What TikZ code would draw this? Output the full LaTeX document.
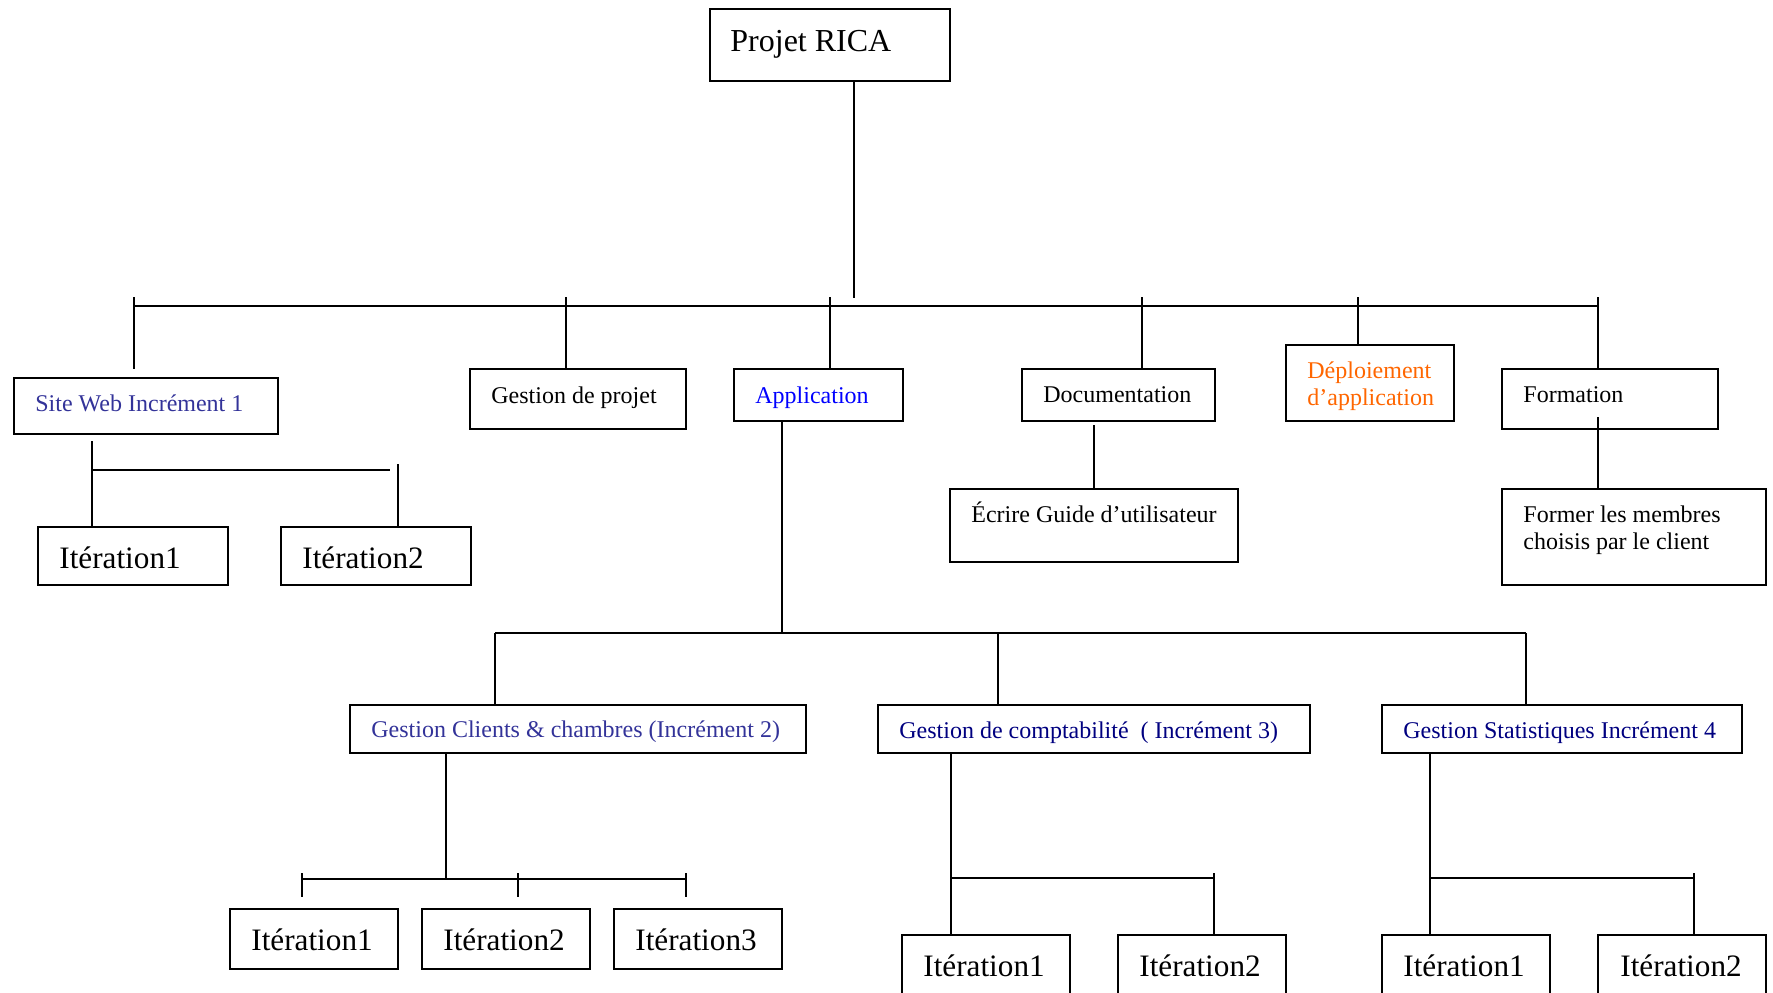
\documentclass[tikz,border=0pt]{standalone}
\usepackage{fontspec}
\setmainfont{Liberation Serif}
\usetikzlibrary{fit}
\definecolor{slateblue}{RGB}{51,51,153}
\definecolor{navyblue}{RGB}{0,0,128}
\definecolor{pureblue}{RGB}{0,0,255}
\definecolor{deployorange}{RGB}{255,102,0}
\begin{document}
\begin{tikzpicture}[x=0.5pt,y=-0.5pt,
  box/.style={draw, line width=1.1pt, inner sep=0pt},
  link/.style={line width=1pt},
  small/.style={anchor=base west, inner sep=0pt, font=\fontsize{12}{14}\selectfont},
  large/.style={anchor=base west, inner sep=0pt, font=\fontsize{15.6}{18}\selectfont},
  head/.style={anchor=base west, inner sep=0pt, font=\fontsize{16}{19}\selectfont}]
\path[use as bounding box] (0,0) rectangle (1773,992);
\clip (0,0) rectangle (1773,992);

% ---------- boxes ----------
\node[box, fit={(710,9) (950,81)}] (root) {};
\node[box, fit={(14,378) (278,434)}] (site) {};
\node[box, fit={(470,369) (686,429)}] (gp) {};
\node[box, fit={(734,369) (903,421)}] (app) {};
\node[box, fit={(1022,369) (1215,421)}] (doc) {};
\node[box, fit={(1286,345) (1454,421)}] (dep) {};
\node[box, fit={(1502,369) (1718,429)}] (form) {};
\node[box, fit={(950,489) (1238,562)}] (guide) {};
\node[box, fit={(1502,489) (1766,585)}] (former) {};
\node[box, fit={(38,527) (228,585)}] (s1) {};
\node[box, fit={(281,527) (471,585)}] (s2) {};
\node[box, fit={(350,705) (806,753)}] (cli) {};
\node[box, fit={(878,705) (1310,753)}] (cpt) {};
\node[box, fit={(1382,705) (1742,753)}] (stat) {};
\node[box, fit={(230,909) (398,969)}] (c1) {};
\node[box, fit={(422,909) (590,969)}] (c2) {};
\node[box, fit={(614,909) (782,969)}] (c3) {};
\node[box, fit={(902,935) (1070,1010)}] (k1) {};
\node[box, fit={(1118,935) (1286,1010)}] (k2) {};
\node[box, fit={(1382,935) (1550,1010)}] (t1) {};
\node[box, fit={(1598,935) (1766,1010)}] (t2) {};

% ---------- texts ----------
\node[head] (rootT) at (730,51) {Projet RICA};
\node[small, text=slateblue] (siteT) at (35,411) {Site Web Incrément 1};
\node[small] (gpT) at (491,403) {Gestion de projet};
\node[small, text=pureblue] (appT) at (755,403) {Application};
\node[small] (docT) at (1043,402) {Documentation};
\node[small, text=deployorange] (depT1) at (1307,378) {Déploiement};
\node[small, text=deployorange] (depT2) at (1307,405) {d’application};
\node[small] (formT) at (1523,402) {Formation};
\node[small] (guideT) at (971,522) {Écrire Guide d’utilisateur};
\node[small] (formerT1) at (1523,522) {Former les membres};
\node[small] (formerT2) at (1523,549) {choisis par le client};
\node[large] (s1T) at (59,568) {Itération1};
\node[large] (s2T) at (302,568) {Itération2};
\node[small, text=slateblue] (cliT) at (371,737) {Gestion Clients \& chambres (Incrément 2)};
\node[small, text=navyblue] (cptT) at (899,738) {Gestion de comptabilité\ \ ( Incrément 3)};
\node[small, text=navyblue] (statT) at (1403,738) {Gestion Statistiques Incrément 4};
\node[large] (c1T) at (251,950) {Itération1};
\node[large] (c2T) at (443,950) {Itération2};
\node[large] (c3T) at (635,950) {Itération3};
\node[large] (k1T) at (923,976) {Itération1};
\node[large] (k2T) at (1139,976) {Itération2};
\node[large] (t1T) at (1403,976) {Itération1};
\node[large] (t2T) at (1620,976) {Itération2};

% ---------- top level bus ----------
\coordinate (rootEnd) at (854,298);
\coordinate (busL) at (134,306);
\coordinate (busR) at (1598,306);
\coordinate (siteEnd) at (134,369);
\draw[link] (rootEnd |- root.south) -- (rootEnd);
\draw[link] (busL) -- (busR);
\draw[link] (134,297) -- (siteEnd);
\draw[link] (566,297) -- (566,297 |- gp.north);
\draw[link] (830,297) -- (830,297 |- app.north);
\draw[link] (1142,297) -- (1142,297 |- doc.north);
\draw[link] (1358,297) -- (1358,297 |- dep.north);
\draw[link] (1598,297) -- (1598,297 |- form.north);

% ---------- site web branch ----------
\draw[link] (92,441) -- (92,441 |- s1.north);
\draw[link] (92,470) -- (390,470);
\draw[link] (398,464) -- (398,464 |- s2.north);

% ---------- documentation / formation ----------
\draw[link] (1094,425) -- (1094,425 |- guide.north);
\draw[link] (1598,417) -- (1598,417 |- former.north);

% ---------- application branch ----------
\draw[link] (782,421 |- app.south) -- (782,633);
\draw[link] (495,633) -- (1526,633);
\draw[link] (495,633) -- (495,633 |- cli.north);
\draw[link] (998,633) -- (998,633 |- cpt.north);
\draw[link] (1526,633) -- (1526,633 |- stat.north);

% ---------- clients iterations ----------
\draw[link] (446,753 |- cli.south) -- (446,879);
\draw[link] (302,879) -- (686,879);
\foreach \xx in {302,518,686} \draw[link] (\xx,873) -- (\xx,897);

% ---------- comptabilite iterations ----------
\draw[link] (951,753 |- cpt.south) -- (951,753 |- k1.north);
\draw[link] (951,878) -- (1214,878);
\draw[link] (1214,873) -- (1214,873 |- k2.north);

% ---------- statistiques iterations ----------
\draw[link] (1430,753 |- stat.south) -- (1430,753 |- t1.north);
\draw[link] (1430,878) -- (1694,878);
\draw[link] (1694,873) -- (1694,873 |- t2.north);
\end{tikzpicture}
\end{document}
